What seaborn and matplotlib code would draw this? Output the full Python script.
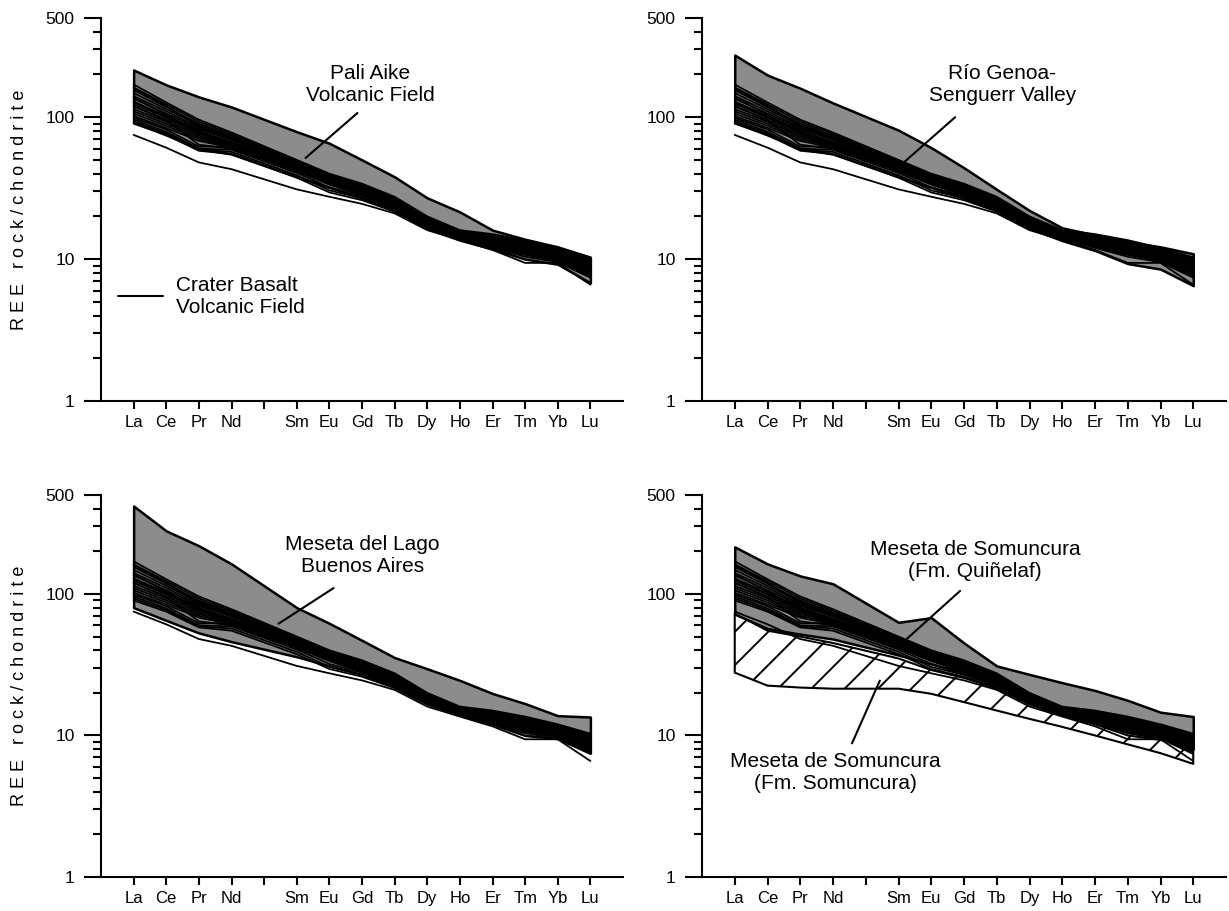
import numpy as np
import pandas as pd
import matplotlib
matplotlib.use("Agg")
import matplotlib.pyplot as plt
import seaborn as sns
from matplotlib.ticker import FixedLocator, NullFormatter, NullLocator
from matplotlib.lines import Line2D

sns.set_style("ticks")
plt.rcParams["font.family"] = ["Liberation Sans", "DejaVu Sans"]
plt.rcParams["hatch.linewidth"] = 1.4
plt.rcParams["text.color"] = "black"

# --- REE order (Pm left as an empty slot) ---
elements = ["La", "Ce", "Pr", "Nd", "Sm", "Eu", "Gd", "Tb", "Dy", "Ho", "Er", "Tm", "Yb", "Lu"]
positions = [0, 1, 2, 3, 5, 6, 7, 8, 9, 10, 11, 12, 13, 14]
tick_labels = ["La", "Ce", "Pr", "Nd", "", "Sm", "Eu", "Gd", "Tb", "Dy", "Ho", "Er", "Tm", "Yb", "Lu"]

# --- Crater Basalt Volcanic Field samples (rock/chondrite) ---
crater_basalt = [
    [170, 127, 96, 78, 50, 40, 34, 27.5, 20, 16, 15, 13.6, 12, 10.3],
    [162, 123, 93, 76, 49, 39.5, 33.5, 27, 19.6, 15.8, 14.7, 13.4, 11.8, 10.1],
    [155, 118, 90, 74, 48, 39, 33, 26.5, 19.3, 15.6, 14.5, 13.2, 11.6, 10],
    [148, 114, 88, 72, 47.5, 38.5, 32.5, 26, 19, 15.4, 14.3, 13, 11.5, 9.8],
    [141, 110, 85, 71, 47, 38, 32, 25.8, 18.8, 15.2, 14, 12.8, 11.3, 9.6],
    [135, 106, 83, 69, 46, 37.5, 31.5, 25.5, 18.6, 15, 13.8, 12.6, 11.1, 9.4],
    [129, 102, 80, 67, 45.5, 37, 31, 25, 18.4, 14.9, 13.6, 12.4, 10.9, 9.2],
    [124, 99, 78, 66, 45, 36.5, 30.5, 24.6, 18.2, 14.8, 13.4, 12.2, 10.8, 9],
    [119, 96, 76, 65, 44, 36, 30, 24.2, 18, 14.6, 13.2, 12, 10.6, 8.8],
    [114, 93, 74, 64, 43.5, 35.5, 29.6, 23.9, 17.8, 14.5, 13, 11.8, 10.5, 8.6],
    [110, 90, 72, 63, 43, 35, 29.2, 23.6, 17.6, 14.4, 12.8, 11.6, 10.3, 8.4],
    [106, 87, 70, 62, 42.5, 34.5, 28.8, 23.3, 17.4, 14.3, 12.6, 11.4, 10.2, 8.2],
    [102, 84, 68, 61, 42, 34, 28.5, 23, 17.2, 14.2, 12.5, 11.2, 10, 8],
    [99, 82, 62, 62, 41.5, 33.5, 28.2, 22.8, 17.1, 14.1, 12.4, 11, 9.9, 7.9],
    [96, 79, 60, 59, 40.5, 32, 27.8, 22.6, 17, 14, 12.3, 10.9, 9.8, 7.8],
    [93, 77, 59, 57, 39, 30.5, 26.8, 22, 16.8, 13.9, 12.1, 10.7, 9.7, 7.6],
    [90, 75, 58, 55, 37.5, 29.5, 26, 21.6, 16.5, 13.8, 12, 10.4, 9.5, 7.4],
    [160, 120, 86, 72, 46, 37.5, 31.5, 25.5, 18.8, 15, 14, 13, 11.6, 10.2],
    [138, 104, 78, 64, 44, 36, 30.5, 24.5, 18.3, 14.8, 13.6, 12.6, 11.2, 9.7],
    [120, 95, 64, 60, 42, 35, 29.5, 24, 17.9, 14.6, 13.3, 12.2, 10.8, 9.3],
    [128, 100, 82, 70, 46, 37, 31, 25, 18.5, 14.9, 13.5, 12.5, 11, 9.5],
    [75, 61, 48, 43, 31, 27.5, 24.5, 21, 16, 13.6, 11.6, 9.4, 9.4, 6.6],
]

# --- comparison fields (upper / lower envelopes) ---
pali_aike_top = [215, 169, 139, 118, 79, 65.5, 50, 38, 27, 21.5, 16, 13.8, 12.2, 10.3]
pali_aike_low = [92, 75, 60, 55, 38, 32, 27, 22, 16.5, 13.6, 11.8, 10, 9.2, 6.8]
genoa_top = [274, 198, 160, 126, 81, 61, 44, 31, 22, 16.6, 14.8, 13.2, 12.2, 10.9]
genoa_low = [92, 75, 60, 55, 38, 32, 27, 22, 16.5, 13.5, 11.5, 9.3, 8.5, 6.5]
lago_ba_top = [418, 279, 219, 163, 80, 62, 47, 35.5, 29.6, 24.5, 19.8, 16.8, 13.8, 13.5]
lago_ba_low = [80, 65, 53, 46, 36, 31, 27, 22.5, 17, 14, 12, 10, 9.5, 7.5]
quinelaf_top = [215, 163, 134, 118, 63, 68, 45, 31, 27, 23.6, 20.8, 17.7, 14.6, 13.6]
quinelaf_low = [72, 57, 52, 48, 37, 32, 27.5, 23, 17.5, 14.5, 12.5, 10.5, 9.6, 8]
somuncura_top = [73, 55, 50, 45, 35, 29, 25.5, 21.5, 17, 14, 12, 10, 9.3, 8.3]
somuncura_low = [27.8, 22.5, 21.8, 21.4, 21.4, 19.7, 17.2, 15, 13.1, 11.5, 10, 8.65, 7.5, 6.3]

rows = []
for i, vals in enumerate(crater_basalt):
    for p, v in zip(positions, vals):
        rows.append({"sample": i, "pos": p, "ree": v})
df = pd.DataFrame(rows)

fig = plt.figure(figsize=(12.29, 9.11), dpi=100)

# axes rectangles in figure fraction
W, H = 1229, 911
rects = [
    (101 / W, (911 - 401) / H, 522 / W, 383 / H),
    (702 / W, (911 - 401) / H, 524 / W, 383 / H),
    (101 / W, (911 - 877) / H, 522 / W, 382 / H),
    (702 / W, (911 - 877) / H, 524 / W, 382 / H),
]

panels = [
    dict(top=pali_aike_top, low=pali_aike_low, label="Pali Aike\nVolcanic Field",
         txt=(7.26, 169), arrow=((6.86, 107), (5.27, 51.6)), ylabel=True),
    dict(top=genoa_top, low=genoa_low, label="Río Genoa-\nSenguerr Valley",
         txt=(8.17, 169), arrow=((6.73, 100), (5.14, 47.5)), ylabel=False),
    dict(top=lago_ba_top, low=lago_ba_low, label="Meseta del Lago\nBuenos Aires",
         txt=(7.02, 186), arrow=((6.13, 110), (4.44, 61.6)), ylabel=True),
    dict(top=quinelaf_top, low=quinelaf_low, label="Meseta de Somuncura\n(Fm. Quiñelaf)",
         txt=(7.34, 171), arrow=((6.88, 105), (5.26, 48.3)), ylabel=False),
]

minor_ticks = [2, 3, 4, 5, 6, 7, 8, 9, 20, 30, 40, 50, 60, 70, 80, 90, 200, 300, 400]

for k, (rect, pan) in enumerate(zip(rects, panels)):
    ax = fig.add_axes(rect)
    ax.set_yscale("log")

    if k == 3:
        ax.fill_between(positions, somuncura_low, somuncura_top, facecolor="white",
                        edgecolor="black", hatch="/", lw=1.5, zorder=1)
    ax.fill_between(positions, pan["low"], pan["top"], facecolor="#8c8c8c",
                    edgecolor="black", lw=1.8, zorder=2)

    sns.lineplot(data=df, x="pos", y="ree", units="sample", estimator=None,
                 color="black", lw=1.3, ax=ax, legend=False, zorder=3)

    ax.set_xlim(-1, 15)
    ax.set_ylim(1, 500)
    ax.set_xlabel("")
    ax.set_ylabel("")

    ax.set_yticks([1, 10, 100, 500])
    ax.set_yticklabels(["1", "10", "100", "500"])
    ax.yaxis.set_minor_locator(FixedLocator(minor_ticks))
    ax.yaxis.set_minor_formatter(NullFormatter())
    ax.set_xticks(range(15))
    ax.set_xticklabels(tick_labels)
    ax.xaxis.set_minor_locator(NullLocator())

    ax.tick_params(axis="y", which="major", length=12, width=1.5, pad=7,
                   labelsize=12.5, color="black", labelcolor="black")
    ax.tick_params(axis="y", which="minor", length=6, width=1.5, color="black")
    ax.tick_params(axis="x", which="major", length=6, width=1.5, pad=4,
                   labelsize=12, color="black", labelcolor="black")

    sns.despine(ax=ax)
    for side in ("left", "bottom"):
        ax.spines[side].set_linewidth(1.5)
        ax.spines[side].set_color("black")

    ax.text(pan["txt"][0], pan["txt"][1], pan["label"], ha="center", va="center",
            fontsize=15, color="black", zorder=5)
    (x1, y1), (x2, y2) = pan["arrow"]
    ax.annotate("", xy=(x2, y2), xytext=(x1, y1),
                arrowprops=dict(arrowstyle="-", lw=1.5, color="black", shrinkA=0, shrinkB=0))

    if pan["ylabel"]:
        ax.text(-0.157, 0.5, "R E E   r o c k / c h o n d r i t e", rotation=90,
                ha="center", va="center", fontsize=13, color="black",
                transform=ax.transAxes)

    if k == 0:
        handle = Line2D([], [], color="black", lw=1.5)
        leg = ax.legend([handle], ["Crater Basalt\nVolcanic Field"], loc="center left",
                        bbox_to_anchor=(0.033, 0.274), frameon=False, fontsize=15,
                        handlelength=2.16, handletextpad=0.6, borderpad=0, borderaxespad=0)
        for t in leg.get_texts():
            t.set_color("black")

    if k == 3:
        ax.text(3.06, 5.5, "Meseta de Somuncura\n(Fm. Somuncura)", ha="center",
                va="center", fontsize=15, color="black", zorder=5)
        ax.annotate("", xy=(4.43, 24.4), xytext=(3.58, 8.8),
                    arrowprops=dict(arrowstyle="-", lw=1.5, color="black",
                                    shrinkA=0, shrinkB=0))

fig.savefig("out.png", dpi=100)
